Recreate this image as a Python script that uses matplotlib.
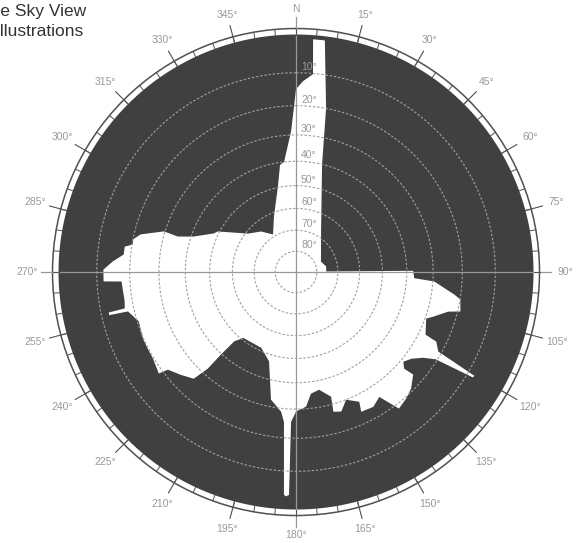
import numpy as np
import matplotlib
matplotlib.use('Agg')
import matplotlib.pyplot as plt
from matplotlib.transforms import offset_copy

DARK = '#404040'
GRID = '#a0a0a0'
RING = '#505050'
LABEL = '#999999'
FONT = 'Liberation Sans'

# horizon profile, traced clockwise from north: azimuth (deg), altitude (deg)
horizon_az = [0.0, 2.1, 4.9, 4.2, 7.1, 8.0, 10.4, 13.6, 31.7, 67.2, 79.6, 89.0,
              89.4, 93.0, 93.9, 96.2, 98.1, 99.5, 103.5, 104.6, 108.0, 109.7,
              115.8, 116.4, 119.2, 120.2, 120.8, 122.0, 124.0, 126.9, 129.9,
              131.8, 131.2, 135.4, 139.0, 143.0, 146.3, 150.2, 155.0, 154.0,
              158.6, 162.0, 165.0, 164.3, 168.9, 173.0, 175.7, 180.0, 181.9,
              181.8, 182.6, 183.1, 184.6, 186.1, 191.1, 196.8, 204.6, 218.6,
              221.7, 222.3, 222.4, 223.8, 228.3, 232.7, 233.5, 238.8, 242.7,
              246.5, 252.5, 256.8, 257.0, 257.8, 258.0, 260.3, 266.9, 267.2,
              270.7, 273.3, 275.8, 278.4, 279.6, 281.3, 283.6, 287.1, 286.7,
              289.0, 295.2, 297.4, 308.7, 319.2, 328.5, 338.4, 348.1, 351.5,
              353.8, 358.0]
horizon_alt = [14.8, 12.4, 10.2, 1.0, 1.0, 7.0, 19.9, 40.0, 67.3, 77.0, 75.3, 75.5,
               37.5, 37.0, 29.5, 25.7, 22.1, 19.9, 19.1, 23.0, 27.4, 29.6,
               27.6, 23.2, 21.1, 8.0, 8.2, 20.5, 24.3, 27.4, 29.0,
               27.2, 23.5, 20.8, 19.5, 18.5, 25.4, 23.6, 24.0, 27.4,
               30.0, 26.6, 27.3, 32.8, 36.4, 35.4, 30.8, 29.1, 25.4,
               3.6, 3.2, 3.6, 25.3, 28.8, 32.6, 47.1, 51.3, 50.9,
               47.3, 39.7, 32.3, 26.2, 23.9, 21.7, 18.6, 19.7, 19.8,
               19.8, 20.5, 18.0, 12.2, 12.2, 17.2, 17.6, 17.3, 11.9,
               11.9, 14.6, 17.8, 17.8, 20.3, 20.0, 22.1, 29.6, 35.1,
               40.8, 48.2, 49.3, 61.0, 64.6, 69.0, 61.7, 49.5, 41.0,
               40.0, 28.7]

alt_rings = [10, 20, 30, 40, 50, 60, 70, 80]
az_major = list(range(0, 360, 15))
az_names = ['N'] + [f'{a}°' for a in az_major[1:]]
az_minor = list(range(0, 360, 5))


def proj(alt):
    # stereographic: horizon -> 1, zenith -> 0
    return np.tan(np.radians(90 - np.asarray(alt, dtype=float)) / 2)


PX = 237.5                 # pixels per unit radius
R_RING = 243.5 / PX
R_TICK = 255.0 / PX

fig = plt.figure(figsize=(5.81, 5.43), dpi=100)
fig.patch.set_facecolor('white')
ax = fig.add_axes([0.0904, 0.0506, 0.8382, 0.8969], projection='polar')
ax.set_theta_zero_location('N')
ax.set_theta_direction(-1)
ax.set_ylim(0, R_RING)
ax.set_xticks([])
ax.set_yticks([])
ax.grid(False)
ax.set_facecolor('white')
ax.spines['polar'].set_color(RING)
ax.spines['polar'].set_linewidth(1.1)

# obstructed sky, then the visible part
full = np.linspace(0, 2 * np.pi, 721)
ax.fill(full, np.full_like(full, proj(0)), color=DARK, lw=0, zorder=1)
ax.fill(np.radians(horizon_az), proj(horizon_alt), color='white', lw=0, zorder=2)

# altitude rings
for alt in alt_rings:
    ax.plot(full, np.full_like(full, proj(alt)), color=GRID, lw=0.8,
            ls=(0, (2.2, 1.6)), zorder=3)
    ax.text(0, proj(alt), f'{alt}°', fontsize=7.5, color=LABEL, family=FONT,
            ha='left', va='bottom', zorder=4,
            transform=offset_copy(ax.transData, fig, x=5, y=1, units='dots'))

# N-S and E-W lines
for a in [0, 90, 180, 270]:
    t = np.radians(a)
    ax.plot([t, t], [0, R_TICK], color='#999999', lw=0.9, zorder=3,
            clip_on=False)

# compass ticks
for a in az_minor:
    t = np.radians(a)
    ax.plot([t, t], [proj(0), R_RING], color=RING, lw=0.7, zorder=3,
            clip_on=False)
for a, name in zip(az_major, az_names):
    t = np.radians(a)
    if a % 90:
        ax.plot([t, t], [proj(0), R_TICK], color=RING, lw=0.8, zorder=3,
                clip_on=False)
    r_px = 258 + 11 * abs(np.sin(t)) + 5 * abs(np.cos(t))
    ax.text(t, r_px / PX, name, fontsize=7.5, color=LABEL, family=FONT,
            ha='center', va='center', clip_on=False)

fig.text(86 / 581, 1 - 16 / 543, 'The Sky View', ha='right', va='baseline',
         fontsize=12.5, color='#333333', family=FONT)
fig.text(84 / 581, 1 - 36 / 543, 'Illustrations', ha='right', va='baseline',
         fontsize=12.5, color='#333333', family=FONT)

fig.savefig('out.png', dpi=100, facecolor='white')
